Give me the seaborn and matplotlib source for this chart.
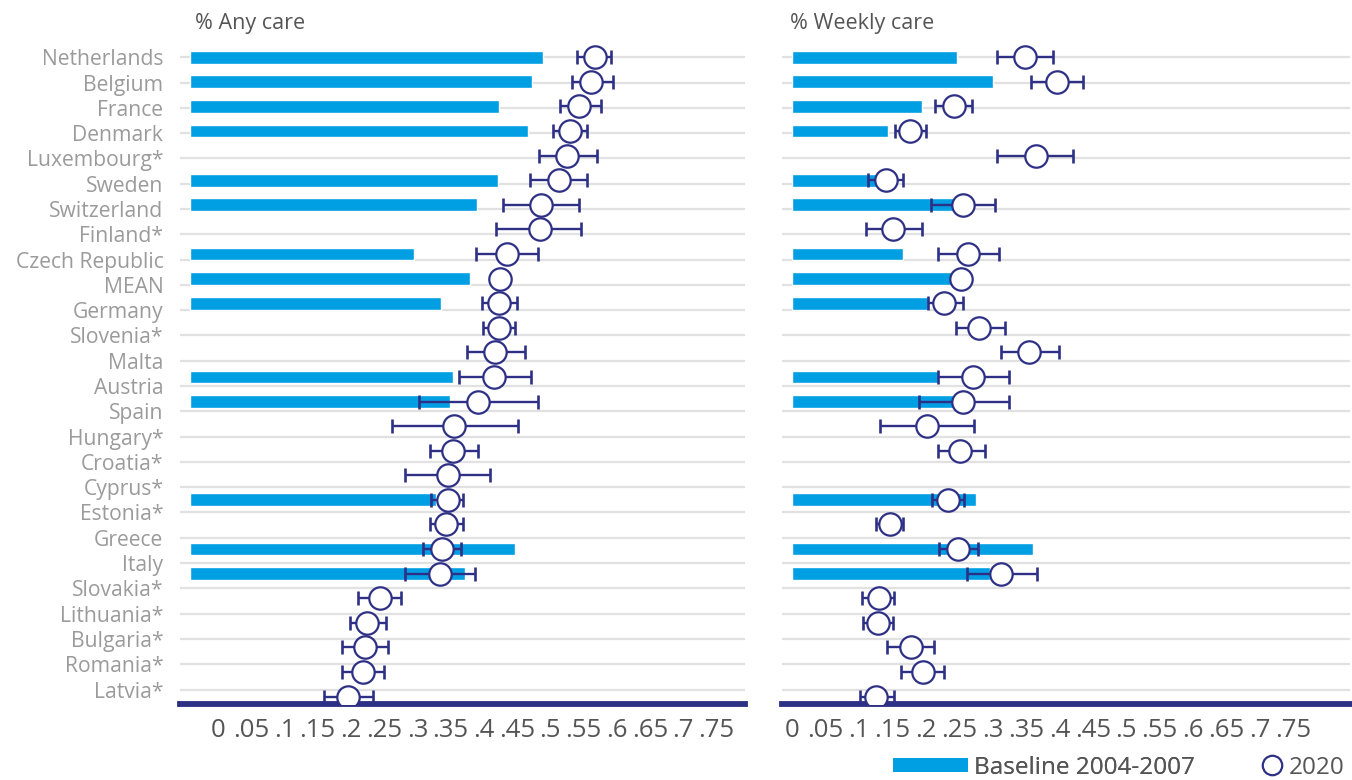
import numpy as np
import matplotlib
matplotlib.use("Agg")
import matplotlib.pyplot as plt
import seaborn as sns
from matplotlib.patches import Patch
from matplotlib.lines import Line2D
from matplotlib.transforms import ScaledTranslation

# ── Data ─────────────────────────────────────────────────────────────────────
# 26 country labels, but the source chart plots 27 data rows (last row unlabelled)
countries = ["Netherlands", "Belgium", "France", "Denmark", "Luxembourg*", "Sweden",
             "Switzerland", "Finland*", "Czech Republic", "MEAN", "Germany", "Slovenia*",
             "Malta", "Austria", "Spain", "Hungary*", "Croatia*", "Cyprus*", "Estonia*",
             "Greece", "Italy", "Slovakia*", "Lithuania*", "Bulgaria*", "Romania*", "Latvia*"]

nan = np.nan
any_base = [0.531, 0.514, 0.465, 0.508, nan, 0.463, 0.432, nan, 0.337, 0.421, 0.378, nan, nan,
            0.396, 0.391, nan, nan, nan, 0.370, nan, 0.489, 0.414, nan, nan, nan, nan, nan]
any_2020 = [0.609, 0.604, 0.586, 0.571, 0.567, 0.555, 0.528, 0.526, 0.477, 0.466, 0.465, 0.465,
            0.459, 0.457, 0.433, 0.397, 0.396, 0.388, 0.388, 0.385, 0.379, 0.376, 0.286, 0.267,
            0.264, 0.261, 0.237]
any_lo = [0.583, 0.574, 0.556, 0.546, 0.525, 0.511, 0.471, 0.460, 0.430, nan, 0.439, 0.441,
          0.417, 0.405, 0.345, 0.304, 0.361, 0.324, 0.363, 0.361, 0.351, 0.324, 0.253, 0.240,
          0.228, 0.228, 0.202]
any_hi = [0.633, 0.637, 0.618, 0.598, 0.612, 0.598, 0.586, 0.589, 0.523, nan, 0.492, 0.489,
          0.504, 0.513, 0.523, 0.493, 0.433, 0.451, 0.411, 0.411, 0.408, 0.429, 0.318, 0.295,
          0.298, 0.292, 0.276]

weekly_base = [0.247, 0.301, 0.194, 0.143, nan, 0.127, 0.243, nan, 0.166, 0.239, 0.204, nan, nan,
               0.219, 0.243, nan, nan, nan, 0.276, nan, 0.361, 0.297, nan, nan, nan, nan, nan]
weekly_2020 = [0.349, 0.397, 0.243, 0.177, 0.365, 0.141, 0.256, 0.151, 0.264, 0.253, 0.228, 0.280,
               0.355, 0.271, 0.256, 0.202, 0.252, nan, 0.234, 0.146, 0.249, 0.313, 0.130, 0.129,
               0.178, 0.196, 0.126]
weekly_lo = [0.307, 0.358, 0.214, 0.154, 0.307, 0.113, 0.208, 0.110, 0.219, nan, 0.204, 0.246,
             0.313, 0.219, 0.190, 0.132, 0.219, nan, 0.209, 0.126, 0.220, 0.262, 0.105, 0.106,
             0.142, 0.163, 0.102]
weekly_hi = [0.390, 0.436, 0.270, 0.201, 0.421, 0.166, 0.304, 0.194, 0.310, nan, 0.256, 0.318,
             0.400, 0.325, 0.324, 0.273, 0.289, nan, 0.258, 0.166, 0.278, 0.367, 0.153, 0.151,
             0.213, 0.228, 0.153]

xticks = [0, .05, .1, .15, .2, .25, .3, .35, .4, .45, .5, .55, .6, .65, .7, .75]
xtick_labels = ["0", ".05", ".1", ".15", ".2", ".25", ".3", ".35", ".4", ".45",
                ".5", ".55", ".6", ".65", ".7", ".75"]

# ── Style ────────────────────────────────────────────────────────────────────
BLUE = "#009FE3"
NAVY = "#2E3085"
GRID = "#E1E1E1"
DARK = "#555555"
LIGHT = "#9B9B9B"

sns.set_theme(style="white")
plt.rcParams["font.family"] = ["Open Sans", "DejaVu Sans"]

fig = plt.figure(figsize=(13.52, 7.8), dpi=100)
W, H = 1352, 780
ax1 = fig.add_axes([180 / W, (H - 704) / H, 565 / W, 664 / H])
ax2 = fig.add_axes([782 / W, (H - 704) / H, 568 / W, 664 / H])

rows = np.arange(len(any_2020))
# labels are spaced slightly wider than the data rows in the source chart
label_pos = np.arange(len(countries)) * 25.3 / 24.6


def panel(ax, base, val, lo, hi):
    val = np.asarray(val)
    sns.barplot(x=base, y=rows, orient="h", native_scale=True, color=BLUE, saturation=1,
                width=0.52, errorbar=None, ax=ax, zorder=2)
    ax.errorbar(val, rows, xerr=[val - np.asarray(lo), np.asarray(hi) - val], fmt="none",
                ecolor=NAVY, elinewidth=1.7, capsize=5, capthick=1.9, zorder=3)
    sns.scatterplot(x=val, y=rows, s=260, color="white", edgecolor=NAVY, linewidth=1.6,
                    ax=ax, zorder=4)
    ax.set_xlim(-0.015, 0.835)
    ax.set_ylim(26.3, -0.7)
    ax.set_yticks(label_pos)
    ax.set_xticks(xticks)
    ax.set_xticklabels(xtick_labels)
    ax.set_xlabel("")
    ax.set_ylabel("")
    ax.yaxis.grid(True, color=GRID, linewidth=1.6)
    ax.xaxis.grid(False)
    ax.set_axisbelow(True)
    for s in ["top", "right", "left"]:
        ax.spines[s].set_visible(False)
    ax.spines["bottom"].set_color(NAVY)
    ax.spines["bottom"].set_linewidth(4.2)
    ax.tick_params(axis="x", length=0, pad=10, labelsize=18.5, labelcolor=DARK)
    ax.tick_params(axis="y", length=0, pad=12, labelsize=15.2, labelcolor=LIGHT)


panel(ax1, any_base, any_2020, any_lo, any_hi)
panel(ax2, weekly_base, weekly_2020, weekly_lo, weekly_hi)

ax1.set_yticklabels(countries)
ax2.set_yticklabels([])

# left panel tick labels sit a little to the right in the original
shift = ScaledTranslation(28 / 100, 0, fig.dpi_scale_trans)
for lab in ax1.get_xticklabels():
    lab.set_transform(lab.get_transform() + shift)

fig.text(195 / W, 1 - 23 / H, "% Any care", fontsize=15.5, color=DARK, va="center")
fig.text(790 / W, 1 - 23 / H, "% Weekly care", fontsize=15.5, color=DARK, va="center")

# legend: two pieces placed side by side as in the original
leg_kw = dict(frameon=False, fontsize=17.5, labelcolor=DARK, handletextpad=0.25,
              borderpad=0, borderaxespad=0, loc="center left")
leg1 = fig.legend([Patch(facecolor=BLUE, edgecolor="none")], ["Baseline 2004-2007"],
                  bbox_to_anchor=(893 / W, 1 - 768 / H), handlelength=3.1,
                  handleheight=0.5, **leg_kw)
fig.add_artist(leg1)
fig.legend([Line2D([], [], linestyle="none", marker="o", markersize=14,
                   markerfacecolor="white", markeredgecolor=NAVY, markeredgewidth=1.6)],
           ["2020"], bbox_to_anchor=(1261 / W, 1 - 768 / H), handlelength=0.9, **leg_kw)

fig.savefig("out.png", dpi=100)
